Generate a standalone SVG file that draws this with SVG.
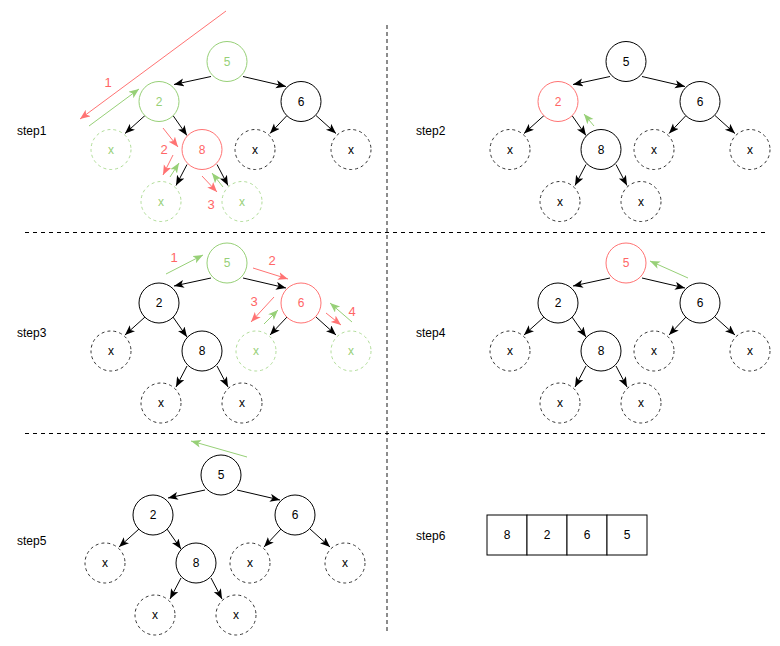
<svg xmlns="http://www.w3.org/2000/svg" width="780" height="646" viewBox="0 0 780 646">
<style>
text{font-family:"Liberation Sans",Arial,sans-serif;font-size:12px;text-anchor:middle;dominant-baseline:central}
.lbl{text-anchor:start}
.n{fill:#fff;stroke:#000;stroke-width:1}
.d{fill:#fff;stroke:#333;stroke-width:1;stroke-dasharray:3 3}
.gn{fill:#fff;stroke:#97D077;stroke-width:1}
.gd{fill:#fff;stroke:#97D077;stroke-opacity:0.75;stroke-width:1;stroke-dasharray:3 3}
.rn{fill:#fff;stroke:#FF7373;stroke-width:1}
.tg{fill:#97D077}
.tr{fill:#FF6666}
.e{stroke:#000;stroke-width:1;fill:none;marker-end:url(#ab)}
.ag{stroke:#97D077;stroke-width:1;fill:none;marker-end:url(#ag)}
.ar{stroke:#FF7373;stroke-width:1;fill:none;marker-end:url(#ar)}
.num{font-size:13px;fill:#FF6666}
</style>
<defs>
<marker id="ab" markerUnits="userSpaceOnUse" markerWidth="11" markerHeight="9" refX="10" refY="4" orient="auto"><path d="M0,0 L10,4 L0,8 L2.5,4 z" fill="#000"/></marker>
<marker id="ag" markerUnits="userSpaceOnUse" markerWidth="11" markerHeight="9" refX="10" refY="4" orient="auto"><path d="M0,0 L10,4 L0,8 L2.5,4 z" fill="#97D077"/></marker>
<marker id="ar" markerUnits="userSpaceOnUse" markerWidth="11" markerHeight="9" refX="10" refY="4" orient="auto"><path d="M0,0 L10,4 L0,8 L2.5,4 z" fill="#FF7373"/></marker>
</defs>
<rect width="780" height="646" fill="#fff"/>

<g id="dividers">
<line x1="387" y1="25" x2="387" y2="632" stroke="#8c8c8c" stroke-width="2" stroke-dasharray="4 3"/>
<line x1="25" y1="232.5" x2="765" y2="232.5" stroke="#000" stroke-width="1" stroke-dasharray="4 4"/>
<line x1="25" y1="433.5" x2="765" y2="433.5" stroke="#000" stroke-width="1" stroke-dasharray="4 4"/>
</g>

<g id="labels">
<text class="lbl" x="17" y="131">step1</text>
<text class="lbl" x="416" y="131">step2</text>
<text class="lbl" x="17" y="333">step3</text>
<text class="lbl" x="416" y="333">step4</text>
<text class="lbl" x="17" y="541">step5</text>
<text class="lbl" x="416" y="536">step6</text>
</g>

<!-- STEP 1 -->
<g id="step1" transform="translate(227,61.5)">
<g id="s1-connectors">
<line class="e" x1="-16" y1="15" x2="-53" y2="23"/>
<line class="e" x1="16" y1="15" x2="59" y2="25"/>
<line class="e" x1="-82" y1="54" x2="-102" y2="72"/>
<line class="e" x1="-54" y1="54" x2="-40" y2="74"/>
<line class="e" x1="-40" y1="103" x2="-51" y2="124"/>
<line class="e" x1="-10" y1="103" x2="1" y2="124"/>
<line class="e" x1="60" y1="54" x2="43" y2="72"/>
<line class="e" x1="89" y1="54" x2="109" y2="72"/>
</g>
<g id="s1-n5"><circle class="gn" cx="0" cy="0" r="20"/><text class="tg" x="0" y="0">5</text></g>
<g id="s1-n2"><circle class="gn" cx="-68" cy="40" r="20"/><text class="tg" x="-68" y="40">2</text></g>
<g id="s1-n6"><circle class="n" cx="74" cy="40" r="20"/><text x="74" y="40">6</text></g>
<g id="s1-x2l"><circle class="gd" cx="-116" cy="88" r="20"/><text class="tg" x="-116" y="88">x</text></g>
<g id="s1-n8"><circle class="rn" cx="-25" cy="88" r="20"/><text class="tr" x="-25" y="88">8</text></g>
<g id="s1-x6l"><circle class="d" cx="28" cy="88" r="20"/><text x="28" y="88">x</text></g>
<g id="s1-x6r"><circle class="d" cx="124" cy="88" r="20"/><text x="124" y="88">x</text></g>
<g id="s1-x8l"><circle class="gd" cx="-66" cy="140" r="20"/><text class="tg" x="-66" y="140">x</text></g>
<g id="s1-x8r"><circle class="gd" cx="15" cy="140" r="20"/><text class="tg" x="15" y="140">x</text></g>
</g>
<g id="s1-annotations">
<line class="ar" x1="226" y1="11" x2="80" y2="119"/>
<text class="num" x="108" y="82">1</text>
<line class="ag" x1="89" y1="126" x2="139" y2="89"/>
<line class="ar" x1="163" y1="128" x2="178" y2="147"/>
<text class="num" x="164" y="149">2</text>
<line class="ar" x1="173" y1="155" x2="163" y2="175"/>
<line class="ag" x1="170" y1="177" x2="179" y2="163"/>
<line class="ar" x1="202" y1="176" x2="217" y2="192"/>
<text class="num" x="211" y="204">3</text>
<line class="ag" x1="223" y1="187" x2="212" y2="173"/>
</g>

<!-- STEP 2 -->
<g id="step2" transform="translate(626,61.5)">
<g id="s2-connectors">
<line class="e" x1="-16" y1="15" x2="-53" y2="23"/>
<line class="e" x1="16" y1="15" x2="59" y2="25"/>
<line class="e" x1="-82" y1="54" x2="-102" y2="72"/>
<line class="e" x1="-54" y1="54" x2="-40" y2="74"/>
<line class="e" x1="-40" y1="103" x2="-51" y2="124"/>
<line class="e" x1="-10" y1="103" x2="1" y2="124"/>
<line class="e" x1="60" y1="54" x2="43" y2="72"/>
<line class="e" x1="89" y1="54" x2="109" y2="72"/>
</g>
<g id="s2-n5"><circle class="n" cx="0" cy="0" r="20"/><text x="0" y="0">5</text></g>
<g id="s2-n2"><circle class="rn" cx="-68" cy="40" r="20"/><text class="tr" x="-68" y="40">2</text></g>
<g id="s2-n6"><circle class="n" cx="74" cy="40" r="20"/><text x="74" y="40">6</text></g>
<g id="s2-x2l"><circle class="d" cx="-116" cy="88" r="20"/><text x="-116" y="88">x</text></g>
<g id="s2-n8"><circle class="n" cx="-25" cy="88" r="20"/><text x="-25" y="88">8</text></g>
<g id="s2-x6l"><circle class="d" cx="28" cy="88" r="20"/><text x="28" y="88">x</text></g>
<g id="s2-x6r"><circle class="d" cx="124" cy="88" r="20"/><text x="124" y="88">x</text></g>
<g id="s2-x8l"><circle class="d" cx="-66" cy="140" r="20"/><text x="-66" y="140">x</text></g>
<g id="s2-x8r"><circle class="d" cx="15" cy="140" r="20"/><text x="15" y="140">x</text></g>
</g>
<g id="s2-annotations">
<line class="ag" x1="594" y1="126" x2="584" y2="114"/>
</g>

<!-- STEP 3 -->
<g id="step3" transform="translate(227,263)">
<g id="s3-connectors">
<line class="e" x1="-16" y1="15" x2="-53" y2="23"/>
<line class="e" x1="16" y1="15" x2="59" y2="25"/>
<line class="e" x1="-82" y1="54" x2="-102" y2="72"/>
<line class="e" x1="-54" y1="54" x2="-40" y2="74"/>
<line class="e" x1="-40" y1="103" x2="-51" y2="124"/>
<line class="e" x1="-10" y1="103" x2="1" y2="124"/>
<line class="e" x1="60" y1="54" x2="43" y2="72"/>
<line class="e" x1="89" y1="54" x2="109" y2="72"/>
</g>
<g id="s3-n5"><circle class="gn" cx="0" cy="0" r="20"/><text class="tg" x="0" y="0">5</text></g>
<g id="s3-n2"><circle class="n" cx="-68" cy="40" r="20"/><text x="-68" y="40">2</text></g>
<g id="s3-n6"><circle class="rn" cx="74" cy="40" r="20"/><text class="tr" x="74" y="40">6</text></g>
<g id="s3-x2l"><circle class="d" cx="-116" cy="88" r="20"/><text x="-116" y="88">x</text></g>
<g id="s3-n8"><circle class="n" cx="-25" cy="88" r="20"/><text x="-25" y="88">8</text></g>
<g id="s3-x6l"><circle class="gd" cx="29" cy="88" r="20"/><text class="tg" x="29" y="88">x</text></g>
<g id="s3-x6r"><circle class="gd" cx="124" cy="88" r="20"/><text class="tg" x="124" y="88">x</text></g>
<g id="s3-x8l"><circle class="d" cx="-66" cy="140" r="20"/><text x="-66" y="140">x</text></g>
<g id="s3-x8r"><circle class="d" cx="15" cy="140" r="20"/><text x="15" y="140">x</text></g>
</g>
<g id="s3-annotations">
<line class="ag" x1="166" y1="274" x2="203" y2="255"/>
<text class="num" x="174" y="257">1</text>
<line class="ar" x1="253" y1="268" x2="288" y2="279"/>
<text class="num" x="272" y="260">2</text>
<line class="ar" x1="274" y1="297" x2="251" y2="322"/>
<text class="num" x="254" y="301">3</text>
<line class="ag" x1="264" y1="324" x2="278" y2="310"/>
<line class="ar" x1="326" y1="313" x2="341" y2="325"/>
<line class="ag" x1="352" y1="322" x2="330" y2="303"/>
<text class="num" x="352" y="311">4</text>
</g>

<!-- STEP 4 -->
<g id="step4" transform="translate(626,263)">
<g id="s4-connectors">
<line class="e" x1="-16" y1="15" x2="-53" y2="23"/>
<line class="e" x1="16" y1="15" x2="59" y2="25"/>
<line class="e" x1="-82" y1="54" x2="-102" y2="72"/>
<line class="e" x1="-54" y1="54" x2="-40" y2="74"/>
<line class="e" x1="-40" y1="103" x2="-51" y2="124"/>
<line class="e" x1="-10" y1="103" x2="1" y2="124"/>
<line class="e" x1="60" y1="54" x2="43" y2="72"/>
<line class="e" x1="89" y1="54" x2="109" y2="72"/>
</g>
<g id="s4-n5"><circle class="rn" cx="0" cy="0" r="20"/><text class="tr" x="0" y="0">5</text></g>
<g id="s4-n2"><circle class="n" cx="-68" cy="40" r="20"/><text x="-68" y="40">2</text></g>
<g id="s4-n6"><circle class="n" cx="74" cy="40" r="20"/><text x="74" y="40">6</text></g>
<g id="s4-x2l"><circle class="d" cx="-116" cy="88" r="20"/><text x="-116" y="88">x</text></g>
<g id="s4-n8"><circle class="n" cx="-25" cy="88" r="20"/><text x="-25" y="88">8</text></g>
<g id="s4-x6l"><circle class="d" cx="28" cy="88" r="20"/><text x="28" y="88">x</text></g>
<g id="s4-x6r"><circle class="d" cx="124" cy="88" r="20"/><text x="124" y="88">x</text></g>
<g id="s4-x8l"><circle class="d" cx="-66" cy="140" r="20"/><text x="-66" y="140">x</text></g>
<g id="s4-x8r"><circle class="d" cx="15" cy="140" r="20"/><text x="15" y="140">x</text></g>
</g>
<g id="s4-annotations">
<line class="ag" x1="688" y1="278" x2="650" y2="261"/>
</g>

<!-- STEP 5 -->
<g id="step5" transform="translate(221,475)">
<g id="s5-connectors">
<line class="e" x1="-16" y1="15" x2="-53" y2="23"/>
<line class="e" x1="16" y1="15" x2="59" y2="25"/>
<line class="e" x1="-82" y1="54" x2="-102" y2="72"/>
<line class="e" x1="-54" y1="54" x2="-40" y2="74"/>
<line class="e" x1="-40" y1="103" x2="-51" y2="124"/>
<line class="e" x1="-10" y1="103" x2="1" y2="124"/>
<line class="e" x1="60" y1="54" x2="43" y2="72"/>
<line class="e" x1="89" y1="54" x2="109" y2="72"/>
</g>
<g id="s5-n5"><circle class="n" cx="0" cy="0" r="20"/><text x="0" y="0">5</text></g>
<g id="s5-n2"><circle class="n" cx="-68" cy="40" r="20"/><text x="-68" y="40">2</text></g>
<g id="s5-n6"><circle class="n" cx="74" cy="40" r="20"/><text x="74" y="40">6</text></g>
<g id="s5-x2l"><circle class="d" cx="-116" cy="88" r="20"/><text x="-116" y="88">x</text></g>
<g id="s5-n8"><circle class="n" cx="-25" cy="88" r="20"/><text x="-25" y="88">8</text></g>
<g id="s5-x6l"><circle class="d" cx="29" cy="88" r="20"/><text x="29" y="88">x</text></g>
<g id="s5-x6r"><circle class="d" cx="124" cy="88" r="20"/><text x="124" y="88">x</text></g>
<g id="s5-x8l"><circle class="d" cx="-66" cy="140" r="20"/><text x="-66" y="140">x</text></g>
<g id="s5-x8r"><circle class="d" cx="15" cy="140" r="20"/><text x="15" y="140">x</text></g>
</g>
<g id="s5-annotations">
<line class="ag" x1="247" y1="457" x2="191" y2="441"/>
</g>

<!-- STEP 6 -->
<g id="step6">
<g id="s6-c1"><rect x="487" y="515" width="40" height="40" fill="#fff" stroke="#000"/><text x="507" y="535">8</text></g>
<g id="s6-c2"><rect x="527" y="515" width="40" height="40" fill="#fff" stroke="#000"/><text x="547" y="535">2</text></g>
<g id="s6-c3"><rect x="567" y="515" width="40" height="40" fill="#fff" stroke="#000"/><text x="587" y="535">6</text></g>
<g id="s6-c4"><rect x="607" y="515" width="40" height="40" fill="#fff" stroke="#000"/><text x="627" y="535">5</text></g>
</g>
</svg>
